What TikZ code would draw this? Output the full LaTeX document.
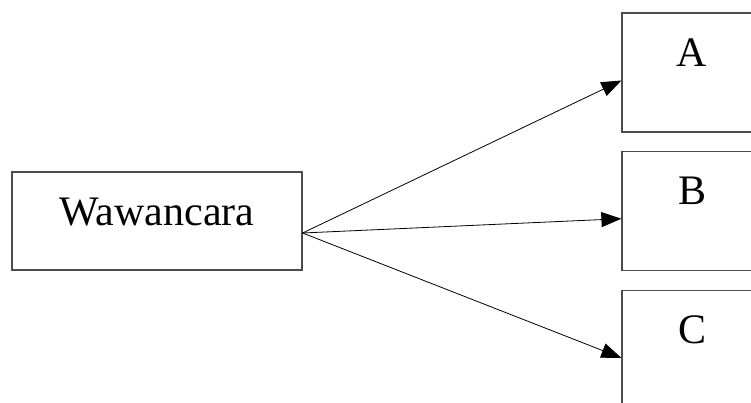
\documentclass[tikz,border=0pt]{standalone}
\usepackage{fontspec}
\setmainfont{Liberation Serif}
\usetikzlibrary{positioning,arrows.meta}
\tikzstyle{box}=[rectangle, draw=black!70, line width=1.2pt, text centered, text=black, font=\fontsize{42}{50}\selectfont, text height=28pt, text depth=20pt]
\tikzstyle{item}=[box, minimum width=140pt, minimum height=119pt, text depth=40pt]
\tikzset{>={Triangle[length=20pt,width=15pt]}}

\begin{document}
\begin{tikzpicture}[x=1pt, y=1pt]
    \clip (0,0) rectangle (751,402);

        \node(interview)[box, minimum width=290pt, minimum height=98pt] at (157,181) {Wawancara};

        \node(itemA)[item] at (692,329.5) {A};
        \node(itemB)[item, below=18pt of itemA] {B};
        \node(itemC)[item, below=19pt of itemB] {C};

        \foreach \x in {A,B,C}{
            \draw [->, line width=0.8pt] ([yshift=-12pt]interview.east) -- ([yshift=-8pt]item\x.west);
        };

    \end{tikzpicture}
\end{document}
